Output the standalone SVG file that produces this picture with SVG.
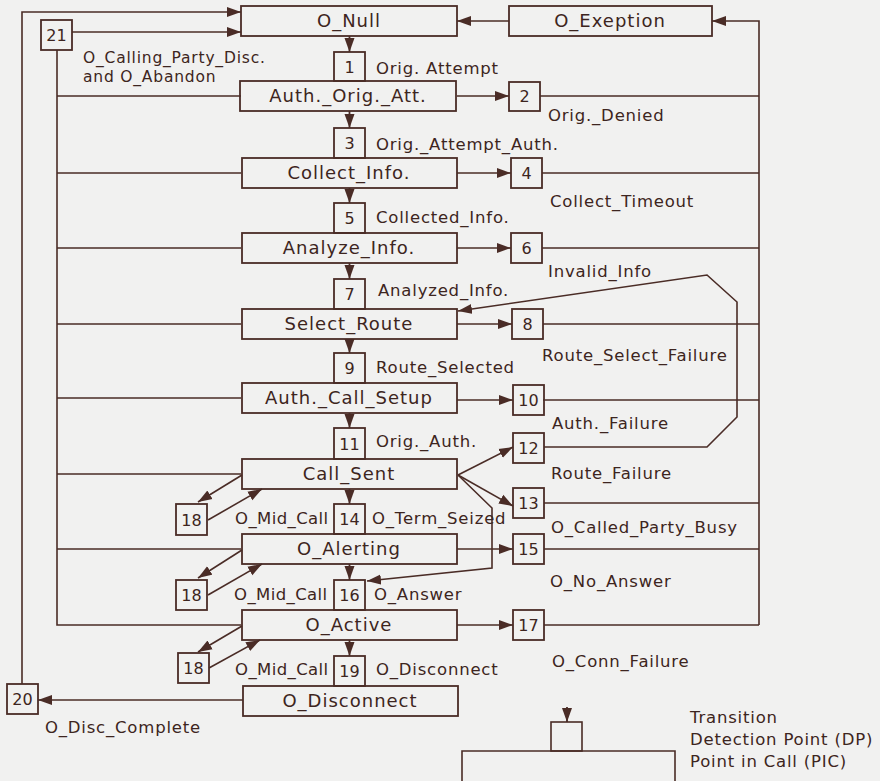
<svg xmlns="http://www.w3.org/2000/svg" width="880" height="781" viewBox="0 0 880 781">
<defs>
<marker id="ah" markerUnits="userSpaceOnUse" markerWidth="16" markerHeight="12" refX="14" refY="5.5" orient="auto">
<path d="M0,0.5 L14,5.5 L0,10.5 z" fill="#4a2c26"/>
</marker>
<style>
.b{fill:none;stroke:#4a2c26;stroke-width:1.8}
.c{fill:none;stroke:#4a2c26;stroke-width:1.6}
.a{marker-end:url(#ah)}
.p{font-family:"DejaVu Sans",sans-serif;font-size:18px;letter-spacing:1px;fill:#3d2520;text-anchor:middle}
.n{font-family:"DejaVu Sans",sans-serif;font-size:16px;fill:#3d2520;text-anchor:middle}
.l{font-family:"DejaVu Sans",sans-serif;font-size:16.5px;letter-spacing:0.8px;fill:#3d2520}
.s{font-size:15.5px}
.m{letter-spacing:0.4px}
</style>
</defs>
<rect width="880" height="781" fill="#f1f1f0"/>

<g id="connectors">
<path class="c a" d="M22,684 V12 H241"/>
<path class="c a" d="M72,32 H241"/>
<path class="c" d="M57,50 V625 H241"/>
<path class="c" d="M57,96 H241 M57,173 H241 M57,248 H241 M57,324 H241 M57,398 H241 M57,474 H241 M57,549 H241"/>
<path class="c a" d="M509,21 H457"/>
<path class="c a" d="M759,625 V21 H712"/>
<path class="c" d="M540,96 H759 M542,173 H759 M542,248 H759 M543,324 H759 M543,400 H759 M544,503 H759 M544,549 H759 M544,625 H759"/>
<path class="b a" d="M349.5,36 V52"/>
<path class="b a" d="M349.5,111 V128"/>
<path class="b a" d="M349.5,188 V203"/>
<path class="b a" d="M349.5,263 V279"/>
<path class="b a" d="M349.5,339 V353"/>
<path class="b a" d="M349.5,413 V428"/>
<path class="b a" d="M349.5,489 V504"/>
<path class="b a" d="M349.5,564 V580"/>
<path class="b a" d="M349.5,640 V656"/>
<path class="c a" d="M457,96 H509"/>
<path class="c a" d="M457,173 H511"/>
<path class="c a" d="M457,248 H511"/>
<path class="c a" d="M457,324 H512"/>
<path class="c a" d="M457,400 H513"/>
<path class="c a" d="M458,475 L513,447"/>
<path class="c a" d="M458,475 L513,506"/>
<path class="c a" d="M458,475 L492,508 V568 L367,581"/>
<path class="c a" d="M457,549 H513"/>
<path class="c a" d="M457,625 H513"/>
<path class="c a" d="M544,447 H707 L737,417 V302 L707,275 L458,311"/>
<path class="c a" d="M242,475 L198,502"/>
<path class="c a" d="M208,520 L262,489"/>
<path class="c a" d="M242,550 L198,578"/>
<path class="c a" d="M208,595 L262,564"/>
<path class="c a" d="M242,626 L198,652"/>
<path class="c a" d="M209,668 L260,640"/>
<path class="c a" d="M243,700 H38"/>
<path class="b a" d="M567,707 V722"/>
</g>

<g id="pic-o-null"><rect class="b" x="241" y="6" width="216" height="30"/><text class="p" x="349" y="27">O_Null</text></g>
<g id="pic-o-exeption"><rect class="b" x="509" y="6" width="203" height="30"/><text class="p" x="610" y="27">O_Exeption</text></g>
<g id="pic-auth-orig-att"><rect class="b" x="240" y="81" width="216" height="30"/><text class="p" x="348" y="102">Auth._Orig._Att.</text></g>
<g id="pic-collect-info"><rect class="b" x="242" y="158" width="215" height="30"/><text class="p" x="349" y="179">Collect_Info.</text></g>
<g id="pic-analyze-info"><rect class="b" x="242" y="233" width="215" height="30"/><text class="p" x="349" y="254">Analyze_Info.</text></g>
<g id="pic-select-route"><rect class="b" x="242" y="309" width="215" height="30"/><text class="p" x="349" y="330">Select_Route</text></g>
<g id="pic-auth-call-setup"><rect class="b" x="242" y="383" width="215" height="30"/><text class="p" x="349" y="404">Auth._Call_Setup</text></g>
<g id="pic-call-sent"><rect class="b" x="242" y="459" width="215" height="30"/><text class="p" x="349" y="480">Call_Sent</text></g>
<g id="pic-o-alerting"><rect class="b" x="242" y="534" width="215" height="30"/><text class="p" x="349" y="555">O_Alerting</text></g>
<g id="pic-o-active"><rect class="b" x="242" y="610" width="215" height="30"/><text class="p" x="349" y="631">O_Active</text></g>
<g id="pic-o-disconnect"><rect class="b" x="243" y="686" width="215" height="30"/><text class="p" x="350" y="707">O_Disconnect</text></g>

<g id="dp-1"><rect class="b" x="334" y="52" width="31" height="29"/><text class="n" x="349.5" y="73">1</text></g>
<g id="dp-3"><rect class="b" x="334" y="128" width="31" height="30"/><text class="n" x="349.5" y="149">3</text></g>
<g id="dp-5"><rect class="b" x="334" y="203" width="31" height="30"/><text class="n" x="349.5" y="224">5</text></g>
<g id="dp-7"><rect class="b" x="334" y="279" width="31" height="30"/><text class="n" x="349.5" y="300">7</text></g>
<g id="dp-9"><rect class="b" x="334" y="353" width="31" height="30"/><text class="n" x="349.5" y="374">9</text></g>
<g id="dp-11"><rect class="b" x="334" y="428" width="31" height="31"/><text class="n" x="349.5" y="450">11</text></g>
<g id="dp-14"><rect class="b" x="334" y="504" width="31" height="30"/><text class="n" x="349.5" y="525">14</text></g>
<g id="dp-16"><rect class="b" x="334" y="580" width="31" height="30"/><text class="n" x="349.5" y="601">16</text></g>
<g id="dp-19"><rect class="b" x="334" y="656" width="31" height="30"/><text class="n" x="349.5" y="677">19</text></g>

<g id="dp-2"><rect class="b" x="509" y="82" width="31" height="29"/><text class="n" x="524.5" y="102">2</text></g>
<g id="dp-4"><rect class="b" x="511" y="158" width="31" height="30"/><text class="n" x="526.5" y="179">4</text></g>
<g id="dp-6"><rect class="b" x="511" y="233" width="31" height="30"/><text class="n" x="526.5" y="254">6</text></g>
<g id="dp-8"><rect class="b" x="512" y="309" width="31" height="30"/><text class="n" x="527.5" y="330">8</text></g>
<g id="dp-10"><rect class="b" x="513" y="385" width="31" height="30"/><text class="n" x="528.5" y="406">10</text></g>
<g id="dp-12"><rect class="b" x="513" y="433" width="31" height="30"/><text class="n" x="528.5" y="454">12</text></g>
<g id="dp-13"><rect class="b" x="513" y="488" width="31" height="30"/><text class="n" x="528.5" y="509">13</text></g>
<g id="dp-15"><rect class="b" x="513" y="534" width="31" height="30"/><text class="n" x="528.5" y="555">15</text></g>
<g id="dp-17"><rect class="b" x="513" y="610" width="31" height="30"/><text class="n" x="528.5" y="631">17</text></g>

<g id="dp-18a"><rect class="b" x="176" y="504" width="31" height="31"/><text class="n" x="191.5" y="526">18</text></g>
<g id="dp-18b"><rect class="b" x="176" y="580" width="31" height="30"/><text class="n" x="191.5" y="601">18</text></g>
<g id="dp-18c"><rect class="b" x="178" y="653" width="31" height="30"/><text class="n" x="193.5" y="674">18</text></g>
<g id="dp-20"><rect class="b" x="7" y="684" width="31" height="30"/><text class="n" x="22.5" y="705">20</text></g>
<g id="dp-21"><rect class="b" x="41" y="20" width="31" height="30"/><text class="n" x="56.5" y="41">21</text></g>

<g id="labels">
<text class="l s" x="83" y="63">O_Calling_Party_Disc.</text>
<text class="l s" x="83" y="82">and O_Abandon</text>
<text class="l" x="376" y="74">Orig. Attempt</text>
<text class="l" x="548" y="121">Orig._Denied</text>
<text class="l" x="376" y="150">Orig._Attempt_Auth.</text>
<text class="l" x="550" y="207">Collect_Timeout</text>
<text class="l" x="376" y="223">Collected_Info.</text>
<text class="l" x="548" y="277">Invalid_Info</text>
<text class="l" x="378" y="296">Analyzed_Info.</text>
<text class="l" x="542" y="361">Route_Select_Failure</text>
<text class="l" x="376" y="373">Route_Selected</text>
<text class="l" x="552" y="429">Auth._Failure</text>
<text class="l" x="376" y="447">Orig._Auth.</text>
<text class="l" x="551" y="479">Route_Failure</text>
<text class="l m" x="235" y="524">O_Mid_Call</text>
<text class="l" x="372" y="524">O_Term_Seized</text>
<text class="l" x="551" y="533">O_Called_Party_Busy</text>
<text class="l" x="550" y="587">O_No_Answer</text>
<text class="l m" x="234" y="600">O_Mid_Call</text>
<text class="l" x="374" y="600">O_Answer</text>
<text class="l m" x="235" y="675">O_Mid_Call</text>
<text class="l" x="376" y="675">O_Disconnect</text>
<text class="l" x="552" y="667">O_Conn_Failure</text>
<text class="l" x="45" y="733">O_Disc_Complete</text>
</g>

<g id="legend">
<rect class="c" x="551" y="722" width="31" height="29"/>
<path class="c" d="M462,781 V751 H675 V781"/>
<text class="l" x="690" y="723">Transition</text>
<text class="l" x="690" y="745">Detection Point (DP)</text>
<text class="l" x="690" y="767">Point in Call (PIC)</text>
</g>
</svg>
